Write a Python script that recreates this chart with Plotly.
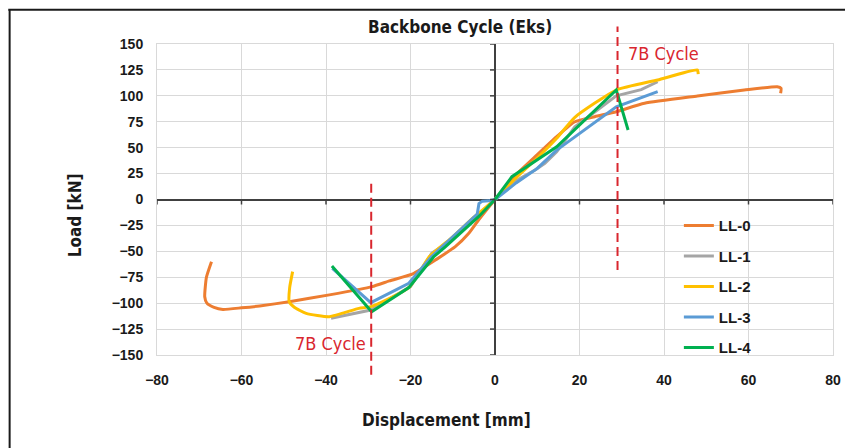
import plotly.graph_objects as go

# ---------------- data ----------------
x_ticks = [-80, -60, -40, -20, 0, 20, 40, 60, 80]
y_ticks = [-150, -125, -100, -75, -50, -25, 0, 25, 50, 75, 100, 125, 150]
x_range = [-80, 80]
y_range = [-150, 150]

ll0_x = [-67.1, -68.3, -68.7, -68.2, -66.5, -64.4, -60.0, -55.7, -48.7, -39.2, -29.1, -25.0, -19.6,
         -17.2, -14.1, -9.4, -6.2, -3.9, 0.0, 4.5, 9.5, 14.6, 18.9, 23.6, 28.7, 35.4, 47.9, 59.0,
         66.8, 67.7, 67.6]
ll0_y = [-60.0, -75.0, -93.8, -100.0, -104.0, -106.0, -104.5, -102.7, -98.6, -92.0, -84.0, -78.5,
         -72.0, -66.4, -58.4, -45.5, -32.6, -19.8, 0.0, 22.0, 41.3, 60.6, 75.0, 79.9, 84.7, 92.8,
         99.8, 105.6, 108.8, 107.3, 102.4]

ll1_x = [-38.8, -29.4, -20.0, -15.0, -10.0, -5.0, -2.0, 0.0, 4.0, 9.5, 11.8, 14.6, 18.9, 28.7, 34.6, 38.5]
ll1_y = [-114.6, -106.6, -84.0, -52.0, -38.0, -19.0, -7.0, 0.0, 16.0, 28.5, 34.9, 46.0, 70.0, 100.0, 106.0, 113.6]

ll2_x = [-47.9, -48.6, -48.7, -47.5, -44.7, -39.2, -32.2, -29.4, -20.4, -15.5, -10.0, -5.0, 0.0,
         5.0, 10.0, 14.6, 18.9, 28.7, 38.5, 47.9, 48.1]
ll2_y = [-69.6, -85.0, -98.6, -104.0, -109.8, -113.0, -105.0, -103.4, -85.0, -55.0, -36.0, -17.0,
         0.0, 21.0, 40.0, 59.0, 79.3, 105.6, 115.3, 124.9, 121.0]

ll3_x = [-38.5, -29.4, -20.4, -15.0, -10.0, -5.0, -4.2, -3.8, -3.0, -1.5, 0.0, 5.0, 10.0, 14.6, 18.9, 28.7, 38.5]
ll3_y = [-66.4, -99.5, -80.8, -55.0, -36.0, -17.0, -14.0, -4.0, -1.6, -1.3, 0.0, 16.0, 30.0, 47.7, 60.6, 89.5, 104.0]

ll4_x = [-38.6, -29.2, -20.4, -14.5, -11.7, -3.9, 0.0, 4.0, 14.6, 28.7, 31.5]
ll4_y = [-64.1, -108.2, -85.0, -55.2, -45.5, -16.6, 0.0, 22.0, 50.9, 105.6, 67.0]

series_names = ["LL-0", "LL-1", "LL-2", "LL-3", "LL-4"]
series_colors = ["#ED7D31", "#A5A5A5", "#FFC000", "#5B9BD5", "#00B050"]
series_x = [ll0_x, ll1_x, ll2_x, ll3_x, ll4_x]
series_y = [ll0_y, ll1_y, ll2_y, ll3_y, ll4_y]
series_smooth = [True, False, True, False, False]

cycle_x = [-29.3, 29.0]           # 7B cycle displacement
cycle_y_span = [[-169.0, 17.0], [-68.0, 167.0]]
cycle_label = "7B Cycle"
cycle_label_pos = [[-39.0, -138.5], [31.0, 140.5]]

title_text = "Backbone Cycle (Eks)"
x_title = "Displacement [mm]"
y_title = "Load [kN]"

# ---------------- figure ----------------
NARROW = "Liberation Sans Narrow, Arial Narrow, DejaVu Sans Condensed, sans-serif"
SANS = "Liberation Sans, Arial, DejaVu Sans, sans-serif"

fig = go.Figure()
for name, xs, ys, col, sm in zip(series_names, series_x, series_y, series_colors, series_smooth):
    line = dict(color=col, width=3)
    if sm:
        line.update(shape="spline", smoothing=0.5)
    fig.add_trace(go.Scatter(x=xs, y=ys, mode="lines", name=name, line=line, legendgroup=name))


def xp(v):
    return (v - x_range[0]) / (x_range[1] - x_range[0])


def yp(v):
    return (v - y_range[0]) / (y_range[1] - y_range[0])


shapes = []
# 7B cycle dashed lines
for cx, (ya, yb) in zip(cycle_x, cycle_y_span):
    shapes.append(dict(type="line", xref="paper", yref="paper", x0=xp(cx), x1=xp(cx),
                       y0=yp(ya), y1=yp(yb), line=dict(color="#D9262E", width=2, dash="9px,5px")))
# tick marks on the zero axes
for v in y_ticks:
    shapes.append(dict(type="line", xref="x", yref="y", xsizemode="pixel", xanchor=0,
                       x0=-5, x1=0, y0=v, y1=v, line=dict(color="#404040", width=1.5)))
for v in x_ticks:
    shapes.append(dict(type="line", xref="x", yref="y", ysizemode="pixel", yanchor=0,
                       x0=v, x1=v, y0=-5, y1=0, line=dict(color="#404040", width=1.5)))
# outer chart frame (spreadsheet style)
shapes.append(dict(type="line", xref="paper", yref="paper", x0=-0.22, x1=1.03, y0=1.11, y1=1.11,
                   line=dict(color="#1a1a1a", width=2)))
shapes.append(dict(type="line", xref="paper", yref="paper", x0=-0.218, x1=-0.218, y0=1.11, y1=-0.31,
                   line=dict(color="#1a1a1a", width=2)))

annotations = [
    dict(text="<b>" + title_text + "</b>", xref="paper", yref="paper", x=0.448, y=1.055,
         showarrow=False, font=dict(family=NARROW, size=17, color="#1a1a1a"), xanchor="center", yanchor="middle"),
    dict(text="<b>" + x_title + "</b>", xref="paper", yref="paper", x=0.428, y=-0.209,
         showarrow=False, font=dict(family=NARROW, size=17, color="#1a1a1a"), xanchor="center", yanchor="middle"),
    dict(text="<b>" + y_title + "</b>", xref="paper", yref="paper", x=-0.121, y=0.45, textangle=-90,
         showarrow=False, font=dict(family=NARROW, size=17, color="#1a1a1a"), xanchor="center", yanchor="middle"),
]
for (lx, ly), anchor in zip(cycle_label_pos, ["center", "left"]):
    annotations.append(dict(text=cycle_label, x=lx, y=ly, xref="x", yref="y", showarrow=False,
                            xanchor=anchor, yanchor="middle",
                            font=dict(family=NARROW, size=18, color="#D9262E")))

axis_common = dict(showgrid=True, gridcolor="#D9D9D9", gridwidth=1, zeroline=True,
                   zerolinecolor="#404040", zerolinewidth=1.5, showline=True, mirror=True,
                   linecolor="#D9D9D9", linewidth=1, ticks="",
                   tickfont=dict(family=SANS, size=14, color="#1a1a1a", weight="bold"))

fig.update_layout(
    width=845, height=440,
    margin=dict(l=149, r=17, t=36, b=93),
    paper_bgcolor="white", plot_bgcolor="white",
    xaxis=dict(range=x_range, tickvals=x_ticks, ticklabelstandoff=12, **axis_common),
    yaxis=dict(range=y_range, tickvals=y_ticks, ticklabelstandoff=10, **axis_common),
    legend=dict(x=0.772, y=0.469, xanchor="left", yanchor="top", bgcolor="rgba(0,0,0,0)",
                font=dict(family=SANS, size=15, color="#1a1a1a", weight="bold"),
                traceorder="grouped", tracegroupgap=8),
    shapes=shapes, annotations=annotations,
)

fig.write_html("out.html")
